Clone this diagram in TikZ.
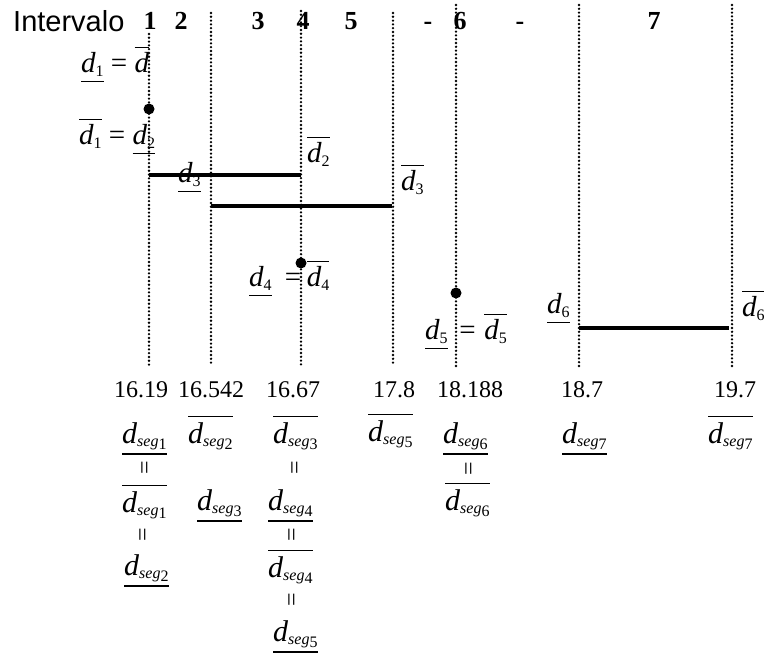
\documentclass[tikz,border=0pt]{standalone}
\usepackage{fontspec}
\setmainfont{Liberation Serif}
\newfontfamily\arialf{Liberation Sans}
\newcommand\subfs{\fontsize{16}{16}\selectfont}
\newcommand\dd[1]{{\itshape d}\raisebox{-4pt}{\subfs #1}}
\newcommand\dseg[1]{{\itshape d}\raisebox{-3pt}{\subfs\itshape seg\raisebox{-3pt}{\upshape #1}}}
\newcommand\ob[1]{\vbox{\hrule height 1.2pt\kern 5pt\hbox{#1}}}
\newcommand\ub[1]{\vtop{\hbox{#1}\kern 4pt\hrule height 1.2pt}}
\tikzset{
  dotline/.style={line width=2.6pt, dash pattern=on 0pt off 3.8pt, line cap=round},
  bar/.style={line width=4pt},
  blob/.style={circle, fill=black, minimum size=11pt, inner sep=0pt},
  lab/.style={anchor=base west, inner sep=0pt, font=\fontsize{29}{29}\selectfont},
  seg/.style={anchor=base west, inner sep=0pt, font=\fontsize{30}{30}\selectfont},
  num/.style={anchor=base, inner sep=0pt, font=\fontsize{24}{24}\selectfont},
  hd/.style={anchor=base, inner sep=0pt, font=\fontsize{26}{26}\selectfont\bfseries},
  veq/.style={rotate=90, inner sep=0pt, font=\fontsize{24}{24}\selectfont}
}
\begin{document}
\begin{tikzpicture}[x=1pt,y=-1pt]
\useasboundingbox (0,0) rectangle (764,655);
\clip (0,0) rectangle (764,655);
% header
\node[anchor=base west, inner sep=0pt, font=\arialf\fontsize{29}{29}\selectfont] (int) at (13,32) {Intervalo};
\node[hd] (h1) at (150,30) {1};
\node[hd] (h2) at (181,30) {2};
\node[hd] (h3) at (258,30) {3};
\node[hd] (h4) at (303,30) {4};
\node[hd] (h5) at (351,30) {5};
\node[hd] (hm1) at (428,30) {-};
\node[hd] (h6) at (460,30) {6};
\node[hd] (hm2) at (520,30) {-};
\node[hd] (h7) at (654,30) {7};
% vertical dotted lines
\coordinate (t1) at (149,34);  \coordinate (b1) at (149,366);
\coordinate (t2) at (211,13);  \coordinate (b2) at (211,366);
\coordinate (t3) at (301,11);  \coordinate (b3) at (301,366);
\coordinate (t4) at (393,13);  \coordinate (b4) at (393,366);
\coordinate (t5) at (456,5);   \coordinate (b5) at (456,366);
\coordinate (t6) at (579,5);   \coordinate (b6) at (579,366);
\coordinate (t7) at (732,5);   \coordinate (b7) at (732,366);
\foreach \i in {1,...,7} {\draw[dotline] (t\i) -- (b\i);}
% thick bars
\coordinate (a1) at (149,175); \coordinate (a2) at (301,175);
\coordinate (c1) at (211,206); \coordinate (c2) at (392,206);
\coordinate (e1) at (579,328); \coordinate (e2) at (729,328);
\draw[bar] (a1) -- (a2);
\draw[bar] (c1) -- (c2);
\draw[bar] (e1) -- (e2);
% dots
\node[blob] (p1) at (149,109) {};
\node[blob] (p2) at (301,263) {};
\node[blob] (p3) at (456,293) {};
% upper labels
\node[lab] (l1) at (81,73) {\ub{\dd{1}} = \ob{\itshape d}};
\node[lab] (l2) at (79,145) {\ob{\dd{1}} = \ub{\dd{2}}};
\node[lab] (l3) at (178,183) {\ub{\dd{3}}};
\node[lab] (l4) at (307,163) {\ob{\dd{2}}};
\node[lab] (l5) at (401,191) {\ob{\dd{3}}};
\node[lab] (l6) at (249,287) {\ub{\dd{4}}\hspace{0.45em}=\hspace{0.2em}\ob{\dd{4}}};
\node[lab] (l7) at (425,340) {\ub{\dd{5}}\hspace{0.4em}=\hspace{0.3em}\ob{\dd{5}}};
\node[lab] (l8) at (547,314) {\ub{\dd{6}}};
\node[lab] (l9) at (742,317) {\ob{\dd{6}}};
% numbers
\node[num] (n1) at (141,398) {16.19};
\node[num] (n2) at (211,398) {16.542};
\node[num] (n3) at (293,398) {16.67};
\node[num] (n4) at (394,398) {17.8};
\node[num] (n5) at (470,398) {18.188};
\node[num] (n6) at (582,398) {18.7};
\node[num] (n7) at (735,398) {19.7};
% segment labels
\node[seg] (s1) at (122,443) {\ub{\dseg{1}}};
\node[seg] (s2) at (188,443) {\ob{\dseg{2}}};
\node[seg] (s3) at (273,443) {\ob{\dseg{3}}};
\node[seg] (s4) at (368,441) {\ob{\dseg{5}}};
\node[seg] (s5) at (443,443) {\ub{\dseg{6}}};
\node[seg] (s6) at (562,443) {\ub{\dseg{7}}};
\node[seg] (s7) at (708,443) {\ob{\dseg{7}}};
\node[veq] (q1) at (147,468) {=};
\node[veq] (q2) at (297,468) {=};
\node[veq] (q3) at (471,469) {=};
\node[seg] (s8) at (122,512) {\ob{\dseg{1}}};
\node[seg] (s9) at (197,510) {\ub{\dseg{3}}};
\node[seg] (s10) at (268,510) {\ub{\dseg{4}}};
\node[seg] (s11) at (445,510) {\ob{\dseg{6}}};
\node[veq] (q4) at (145,535) {=};
\node[veq] (q5) at (294,535) {=};
\node[seg] (s12) at (124,575) {\ub{\dseg{2}}};
\node[seg] (s13) at (268,577) {\ob{\dseg{4}}};
\node[veq] (q6) at (294,600) {=};
\node[seg] (s14) at (273,641) {\ub{\dseg{5}}};
\end{tikzpicture}
\end{document}
